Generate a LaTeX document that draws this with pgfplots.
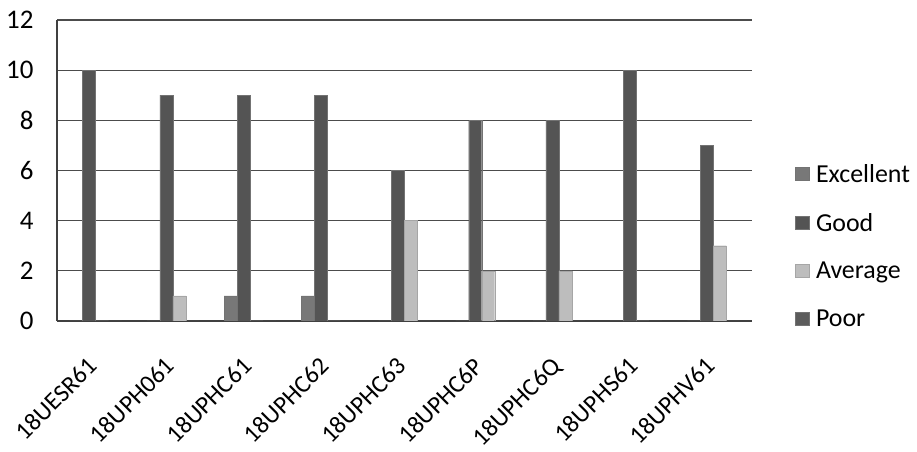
\documentclass[border=0pt]{standalone}
\usepackage{fontspec}
\setmainfont{Carlito}
\usepackage{pgfplots}
\pgfplotsset{compat=1.18}

\definecolor{cExc}{gray}{0.47}
\definecolor{cGood}{gray}{0.33}
\definecolor{cAvg}{gray}{0.74}
\definecolor{cPoor}{gray}{0.36}

\begin{document}
\begin{tikzpicture}[x=1bp,y=1bp]
\useasboundingbox (0,0) rectangle (917,452);
\begin{axis}[
  at={(57bp,131bp)}, anchor=south west,
  scale only axis,
  width=695bp, height=301bp,
  ybar=0pt,
  bar width=13bp,
  xmin=-0.5, xmax=8.5,
  ymin=0, ymax=12,
  ytick={0,2,...,12},
  xtick={0,...,8},
  xticklabels={18UESR61,18UPH061,18UPHC61,18UPHC62,18UPHC63,18UPHC6P,18UPHC6Q,18UPHS61,18UPHV61},
  x tick label style={xshift=-9bp, yshift=-30bp, rotate=45, anchor=north east, font=\fontsize{25}{30}\selectfont},
  y tick label style={font=\fontsize{27}{30}\selectfont, xshift=-20bp},
  /pgf/number format/assume math mode=true,
  axis x line*=bottom,
  axis y line*=left,
  axis line style={black!75, line width=1.3pt, -},
  major tick length=0pt,
  ymajorgrids=true,
  grid style={black!70, line width=1.3pt},
  legend style={draw=none, fill=none, at={(1.057,0.535)}, anchor=north west,
    font=\fontsize{26}{30}\selectfont, row sep=25.5bp},
  legend cell align=left,
  legend image code/.code={\fill[#1] (0bp,-6bp) rectangle (14bp,7bp); \path[draw=none,fill=none] (0bp,0bp) -- (19bp,0bp);},
]
\addplot[fill=cExc, draw=black!55] coordinates {(0,0) (1,0) (2,1) (3,1) (4,0) (5,0) (6,0) (7,0) (8,0)};
\addplot[fill=cGood, draw=black!55] coordinates {(0,10) (1,9) (2,9) (3,9) (4,6) (5,8) (6,8) (7,10) (8,7)};
\addplot[fill=cAvg, draw=black!35] coordinates {(0,0) (1,1) (2,0) (3,0) (4,4) (5,2) (6,2) (7,0) (8,3)};
\addplot[fill=cPoor, draw=black!55] coordinates {(0,0) (1,0) (2,0) (3,0) (4,0) (5,0) (6,0) (7,0) (8,0)};
\legend{Excellent,Good,Average,Poor}
\end{axis}
\end{tikzpicture}
\end{document}
